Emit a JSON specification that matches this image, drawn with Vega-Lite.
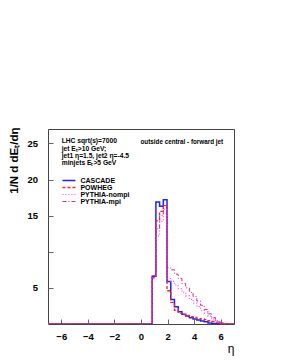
{
  "$schema": "https://vega.github.io/schema/vega-lite/v6.json",
  "width": 186,
  "height": 195,
  "autosize": {"type": "none"},
  "padding": {"left": 48, "top": 129, "right": 47, "bottom": 39},
  "background": "white",
  "config": {
    "view": {"stroke": "#444", "strokeWidth": 1},
    "font": "Liberation Sans",
    "axis": {"labelOverlap": false}
  },
  "datasets": {
    "hist": [
      {"sample": "CASCADE", "eta": -7, "value": 0},
      {"sample": "CASCADE", "eta": 0.84, "value": 6.6},
      {"sample": "CASCADE", "eta": 1.12, "value": 16.9},
      {"sample": "CASCADE", "eta": 1.40, "value": 16.3},
      {"sample": "CASCADE", "eta": 1.68, "value": 17.2},
      {"sample": "CASCADE", "eta": 1.96, "value": 5.9},
      {"sample": "CASCADE", "eta": 2.24, "value": 3.4},
      {"sample": "CASCADE", "eta": 2.52, "value": 2.4},
      {"sample": "CASCADE", "eta": 2.80, "value": 1.7},
      {"sample": "CASCADE", "eta": 3.08, "value": 1.35},
      {"sample": "CASCADE", "eta": 3.36, "value": 1.1},
      {"sample": "CASCADE", "eta": 3.64, "value": 0.85},
      {"sample": "CASCADE", "eta": 3.92, "value": 0.7},
      {"sample": "CASCADE", "eta": 4.20, "value": 0.55},
      {"sample": "CASCADE", "eta": 4.48, "value": 0.4},
      {"sample": "CASCADE", "eta": 4.76, "value": 0.3},
      {"sample": "CASCADE", "eta": 5.04, "value": 0.15},
      {"sample": "CASCADE", "eta": 5.32, "value": 0.06},
      {"sample": "CASCADE", "eta": 5.60, "value": 0.02},
      {"sample": "CASCADE", "eta": 5.88, "value": 0},
      {"sample": "CASCADE", "eta": 7, "value": 0},
      {"sample": "POWHEG", "eta": -7, "value": 0},
      {"sample": "POWHEG", "eta": 0.84, "value": 6.4},
      {"sample": "POWHEG", "eta": 1.12, "value": 14.3},
      {"sample": "POWHEG", "eta": 1.40, "value": 15.6},
      {"sample": "POWHEG", "eta": 1.68, "value": 16.2},
      {"sample": "POWHEG", "eta": 1.96, "value": 4.6},
      {"sample": "POWHEG", "eta": 2.24, "value": 3.0},
      {"sample": "POWHEG", "eta": 2.52, "value": 1.9},
      {"sample": "POWHEG", "eta": 2.80, "value": 1.5},
      {"sample": "POWHEG", "eta": 3.08, "value": 1.3},
      {"sample": "POWHEG", "eta": 3.36, "value": 1.2},
      {"sample": "POWHEG", "eta": 3.64, "value": 1.0},
      {"sample": "POWHEG", "eta": 3.92, "value": 0.9},
      {"sample": "POWHEG", "eta": 4.20, "value": 0.75},
      {"sample": "POWHEG", "eta": 4.48, "value": 0.7},
      {"sample": "POWHEG", "eta": 4.76, "value": 0.6},
      {"sample": "POWHEG", "eta": 5.04, "value": 0.45},
      {"sample": "POWHEG", "eta": 5.32, "value": 0.35},
      {"sample": "POWHEG", "eta": 5.60, "value": 0.25},
      {"sample": "POWHEG", "eta": 5.88, "value": 0.15},
      {"sample": "POWHEG", "eta": 6.16, "value": 0.05},
      {"sample": "POWHEG", "eta": 6.44, "value": 0},
      {"sample": "POWHEG", "eta": 7, "value": 0},
      {"sample": "PYTHIA-nompi", "eta": -7, "value": 0},
      {"sample": "PYTHIA-nompi", "eta": 0.84, "value": 6.5},
      {"sample": "PYTHIA-nompi", "eta": 1.12, "value": 12.2},
      {"sample": "PYTHIA-nompi", "eta": 1.40, "value": 14.2},
      {"sample": "PYTHIA-nompi", "eta": 1.68, "value": 15.9},
      {"sample": "PYTHIA-nompi", "eta": 1.96, "value": 6.3},
      {"sample": "PYTHIA-nompi", "eta": 2.24, "value": 5.9},
      {"sample": "PYTHIA-nompi", "eta": 2.52, "value": 5.4},
      {"sample": "PYTHIA-nompi", "eta": 2.80, "value": 4.9},
      {"sample": "PYTHIA-nompi", "eta": 3.08, "value": 4.4},
      {"sample": "PYTHIA-nompi", "eta": 3.36, "value": 3.9},
      {"sample": "PYTHIA-nompi", "eta": 3.64, "value": 3.4},
      {"sample": "PYTHIA-nompi", "eta": 3.92, "value": 2.9},
      {"sample": "PYTHIA-nompi", "eta": 4.20, "value": 2.4},
      {"sample": "PYTHIA-nompi", "eta": 4.48, "value": 1.9},
      {"sample": "PYTHIA-nompi", "eta": 4.76, "value": 1.5},
      {"sample": "PYTHIA-nompi", "eta": 5.04, "value": 1.1},
      {"sample": "PYTHIA-nompi", "eta": 5.32, "value": 0.7},
      {"sample": "PYTHIA-nompi", "eta": 5.60, "value": 0.4},
      {"sample": "PYTHIA-nompi", "eta": 5.88, "value": 0.2},
      {"sample": "PYTHIA-nompi", "eta": 6.16, "value": 0.08},
      {"sample": "PYTHIA-nompi", "eta": 6.44, "value": 0.02},
      {"sample": "PYTHIA-nompi", "eta": 7, "value": 0},
      {"sample": "PYTHIA-mpi", "eta": -7, "value": 0},
      {"sample": "PYTHIA-mpi", "eta": 0.84, "value": 6.7},
      {"sample": "PYTHIA-mpi", "eta": 1.12, "value": 13.2},
      {"sample": "PYTHIA-mpi", "eta": 1.40, "value": 15.0},
      {"sample": "PYTHIA-mpi", "eta": 1.68, "value": 16.4},
      {"sample": "PYTHIA-mpi", "eta": 1.96, "value": 7.8},
      {"sample": "PYTHIA-mpi", "eta": 2.24, "value": 7.5},
      {"sample": "PYTHIA-mpi", "eta": 2.52, "value": 6.9},
      {"sample": "PYTHIA-mpi", "eta": 2.80, "value": 6.3},
      {"sample": "PYTHIA-mpi", "eta": 3.08, "value": 5.6},
      {"sample": "PYTHIA-mpi", "eta": 3.36, "value": 5.0},
      {"sample": "PYTHIA-mpi", "eta": 3.64, "value": 4.4},
      {"sample": "PYTHIA-mpi", "eta": 3.92, "value": 3.8},
      {"sample": "PYTHIA-mpi", "eta": 4.20, "value": 3.2},
      {"sample": "PYTHIA-mpi", "eta": 4.48, "value": 2.6},
      {"sample": "PYTHIA-mpi", "eta": 4.76, "value": 2.0},
      {"sample": "PYTHIA-mpi", "eta": 5.04, "value": 1.4},
      {"sample": "PYTHIA-mpi", "eta": 5.32, "value": 0.9},
      {"sample": "PYTHIA-mpi", "eta": 5.60, "value": 0.5},
      {"sample": "PYTHIA-mpi", "eta": 5.88, "value": 0.25},
      {"sample": "PYTHIA-mpi", "eta": 6.16, "value": 0.1},
      {"sample": "PYTHIA-mpi", "eta": 6.44, "value": 0.03},
      {"sample": "PYTHIA-mpi", "eta": 7, "value": 0}
    ],
    "notes": [
      {"x": -5.97, "y": 25.28, "label": "LHC sqrt(s)=7000"},
      {"x": -5.97, "y": 24.21, "label": "jet  Eₜ>10 GeV;"},
      {"x": -5.97, "y": 23.25, "label": "jet1 η=1.5, jet2 η=-4.5"},
      {"x": -5.97, "y": 22.28, "label": "minjets Eₜ>5 GeV"}
    ],
    "heading": [
      {"x": 3.07, "y": 25.2, "label": "outside central - forward jet"}
    ]
  },
  "resolve": {"scale": {"x": "independent"}, "axis": {"x": "independent"}},
  "layer": [
    {
      "data": {"name": "hist"},
      "mark": {"type": "line", "interpolate": "step-after", "clip": true},
      "encoding": {
        "x": {
          "field": "eta", "type": "quantitative",
          "scale": {"domain": [-7, 7], "nice": false},
          "axis": {
            "values": [-6, -4, -2, 0, 2, 4, 6],
            "labelOverlap": false,
            "domain": false, "grid": false,
            "tickSize": -5, "tickColor": "#666",
            "labelPadding": 12, "labelFontSize": 9.5, "labelFontWeight": "bold", "labelColor": "#000",
            "title": "η", "titleFontSize": 12, "titleFontWeight": "normal", "titleColor": "#000",
            "titleX": 186, "titleY": 28, "titleAlign": "right", "titleBaseline": "alphabetic"
          }
        },
        "y": {
          "field": "value", "type": "quantitative",
          "scale": {"domain": [0, 27], "nice": false},
          "axis": {
            "values": [5, 10, 15, 20, 25],
            "labelOverlap": false,
            "labelExpr": "datum.value == 10 ? '' : datum.label",
            "domain": false, "grid": false,
            "tickSize": -5, "tickColor": "#666",
            "labelPadding": 15.5, "labelFontSize": 9.5, "labelFontWeight": "bold", "labelColor": "#000",
            "title": "1/N d dEₜ/dη", "titleFontSize": 11.5, "titleFontWeight": "bold", "titleColor": "#000",
            "titleX": -34, "titleY": -2, "titleAngle": -90, "titleAlign": "right", "titleBaseline": "middle"
          }
        },
        "color": {
          "field": "sample", "type": "nominal",
          "scale": {
            "domain": ["CASCADE", "POWHEG", "PYTHIA-nompi", "PYTHIA-mpi"],
            "range": ["#2020ff", "#ff2020", "#ff40ff", "#d0307a"]
          },
          "legend": {
            "orient": "none", "legendX": 16.95, "legendY": 47.5, "padding": 0,
            "title": null, "symbolType": "M-2,0H2", "symbolSize": 42, "symbolStrokeWidth": 1.2,
            "labelFontSize": 7, "labelFontWeight": "bold", "labelColor": "#000", "labelOffset": 7.5,
            "rowPadding": 0
          }
        },
        "strokeDash": {
          "field": "sample", "type": "nominal",
          "scale": {
            "domain": ["CASCADE", "POWHEG", "PYTHIA-nompi", "PYTHIA-mpi"],
            "range": [[1, 0], [3, 2], [1, 2], [4, 2, 1, 2]]
          },
          "legend": {
            "orient": "none", "legendX": 16.95, "legendY": 47.5, "padding": 0,
            "title": null, "symbolType": "M-2,0H2", "symbolSize": 42, "symbolStrokeWidth": 1.2,
            "labelFontSize": 7, "labelFontWeight": "bold", "labelColor": "#000", "labelOffset": 7.5,
            "rowPadding": 0
          }
        },
        "strokeWidth": {
          "field": "sample", "type": "nominal",
          "scale": {
            "domain": ["CASCADE", "POWHEG", "PYTHIA-nompi", "PYTHIA-mpi"],
            "range": [1.5, 1, 1, 1]
          },
          "legend": null
        }
      }
    },
    {
      "data": {"name": "notes"},
      "mark": {"type": "text", "align": "left", "baseline": "middle", "fontSize": 6.7, "fontWeight": "bold", "color": "#000"},
      "encoding": {
        "x": {"field": "x", "type": "quantitative", "scale": {"domain": [-7, 7], "nice": false}, "axis": null},
        "y": {"field": "y", "type": "quantitative"},
        "text": {"field": "label"}
      }
    },
    {
      "data": {"name": "heading"},
      "mark": {"type": "text", "align": "center", "baseline": "middle", "fontSize": 6.3, "fontWeight": "bold", "color": "#000"},
      "encoding": {
        "x": {"field": "x", "type": "quantitative", "scale": {"domain": [-7, 7], "nice": false}, "axis": null},
        "y": {"field": "y", "type": "quantitative"},
        "text": {"field": "label"}
      }
    }
  ]
}
